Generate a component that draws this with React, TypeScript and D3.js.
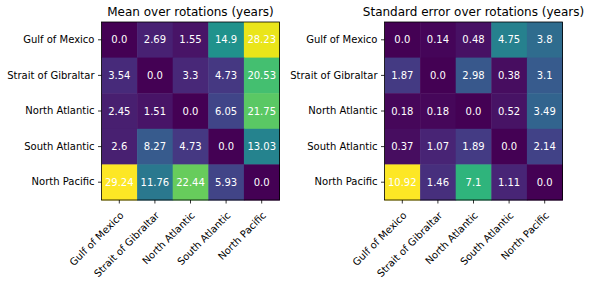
import React, { useEffect, useRef } from 'react';
import * as d3 from 'd3';

const regions = ['Gulf of Mexico', 'Strait of Gibraltar', 'North Atlantic', 'South Atlantic', 'North Pacific'];

const meanValues = [
  [0.0, 2.69, 1.55, 14.9, 28.23],
  [3.54, 0.0, 3.3, 4.73, 20.53],
  [2.45, 1.51, 0.0, 6.05, 21.75],
  [2.6, 8.27, 4.73, 0.0, 13.03],
  [29.24, 11.76, 22.44, 5.93, 0.0],
];

const stdErrValues = [
  [0.0, 0.14, 0.48, 4.75, 3.8],
  [1.87, 0.0, 2.98, 0.38, 3.1],
  [0.18, 0.18, 0.0, 0.52, 3.49],
  [0.37, 1.07, 1.89, 0.0, 2.14],
  [10.92, 1.46, 7.1, 1.11, 0.0],
];

const titles = ['Mean over rotations (years)', 'Standard error over rotations (years)'];

const width = 591;
const height = 283;
const font = 'DejaVu Sans, sans-serif';

const fmt = (v: number) => (Number.isInteger(v) ? v.toFixed(1) : String(v));

const App: React.FC = () => {
  const svgRef = useRef<SVGSVGElement>(null);

  useEffect(() => {
    if (!svgRef.current) return;
    const svg = d3.select(svgRef.current);
    svg.selectAll('*').remove();

    const panels = [
      { data: meanValues, title: titles[0], left: 101.5 },
      { data: stdErrValues, title: titles[1], left: 384.5 },
    ];
    const top = 22;
    const size = 178;

    panels.forEach(p => {
      const g = svg.append('g').attr('transform', `translate(${p.left},${top})`);

      const x = d3.scaleBand<string>().domain(regions).range([0, size]);
      const y = d3.scaleBand<string>().domain(regions).range([0, size]);
      const flat = p.data.flat();
      const color = d3
        .scaleSequential(d3.interpolateViridis)
        .domain([d3.min(flat) as number, d3.max(flat) as number]);

      const cells = p.data.flatMap((row, i) =>
        row.map((v, j) => ({ row: regions[i], col: regions[j], v }))
      );

      // Cells
      g.selectAll('rect.cell')
        .data(cells)
        .enter()
        .append('rect')
        .attr('class', 'cell')
        .attr('x', d => x(d.col) as number)
        .attr('y', d => y(d.row) as number)
        .attr('width', x.bandwidth() + 0.5)
        .attr('height', y.bandwidth() + 0.5)
        .attr('fill', d => color(d.v));

      // Cell labels
      g.selectAll('text.val')
        .data(cells)
        .enter()
        .append('text')
        .attr('class', 'val')
        .attr('x', d => (x(d.col) as number) + x.bandwidth() / 2)
        .attr('y', d => (y(d.row) as number) + y.bandwidth() / 2)
        .attr('text-anchor', 'middle')
        .attr('dominant-baseline', 'central')
        .attr('fill', 'white')
        .style('font-family', font)
        .style('font-size', '10px')
        .text(d => fmt(d.v));

      // Frame
      g.append('rect')
        .attr('width', size)
        .attr('height', size)
        .attr('fill', 'none')
        .attr('stroke', 'black')
        .attr('stroke-width', 0.8);

      // Y axis
      const yAxis = g.append('g').call(d3.axisLeft(y).tickSize(3.5).tickPadding(3.5));
      yAxis.select('.domain').remove();
      yAxis.selectAll('line').attr('stroke-width', 0.8);
      yAxis.selectAll('text').style('font-family', font).style('font-size', '10px').attr('fill', 'black');

      // X axis
      const xAxis = g
        .append('g')
        .attr('transform', `translate(0,${size})`)
        .call(d3.axisBottom(x).tickSize(3.5).tickPadding(3.5));
      xAxis.select('.domain').remove();
      xAxis.selectAll('line').attr('stroke-width', 0.8);
      xAxis
        .selectAll('text')
        .style('font-family', font)
        .style('font-size', '10px')
        .attr('fill', 'black')
        .attr('text-anchor', 'end')
        .attr('dy', null)
        .attr('y', null)
        .attr('transform', 'translate(5,16) rotate(-45)');

      // Title
      svg
        .append('text')
        .attr('x', p.left + size / 2)
        .attr('y', 16)
        .attr('text-anchor', 'middle')
        .style('font-family', font)
        .style('font-size', '12px')
        .attr('fill', 'black')
        .text(p.title);
    });
  }, []);

  return (
    <svg
      ref={svgRef}
      width={width}
      height={height}
      style={{ position: 'absolute', left: 0, top: 0, background: 'white' }}
    />
  );
};

export default App;
